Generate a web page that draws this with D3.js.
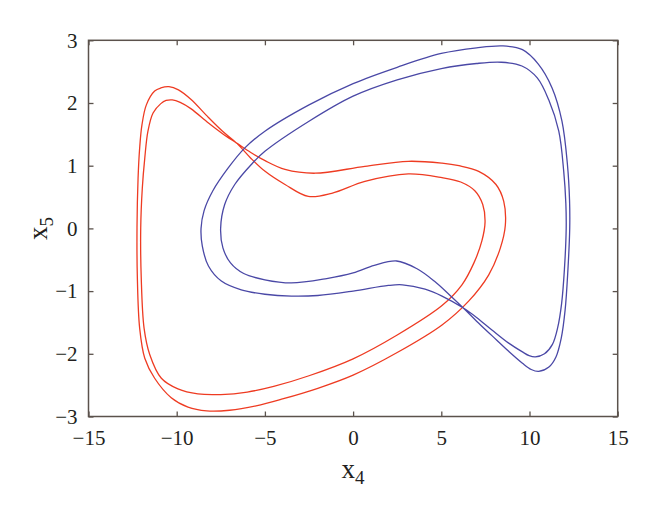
<!DOCTYPE html>
<html><head><meta charset="utf-8">
<script src="https://cdn.jsdelivr.net/npm/d3@7"></script>
<style>html,body{margin:0;padding:0;background:#fff;}</style>
</head><body><svg id="c" width="660" height="516"></svg>
<script>
const xTicks = [-15,-10,-5,0,5,10,15];
const yTicks = [-3,-2,-1,0,1,2,3];
const xLabel = "x", xSub = "4";
const yLabel = "x", ySub = "5";

// red orbit (period-2), closed
const redX4 = [-10.44,-10.9,-11.25,-11.72,-11.97,-12.10,-12.19,-12.25,-12.23,-12.10,-11.81,-11.25,-10.31,-9.36,-8.3,-7.0,-5.5,-4.0,-2.0,0.0,2.5,5.04,6.55,7.69,8.35,8.63,8.54,8.1,7.12,6.0,5.04,3.13,0.67,-2.16,-3.86,-4.99,-5.8,-6.6,-7.4,-8.2,-9.2,-9.8,-10.25,-10.6,-10.9,-11.34,-11.63,-11.81,-11.95,-12.04,-12.01,-11.85,-11.53,-10.87,-9.93,-8.8,-7.5,-6.0,-4.5,-2.5,0.0,2.5,5.04,6.17,6.85,7.3,7.48,7.35,6.9,6.1,5.04,3.13,0.67,-1.21,-2.54,-3.86,-4.99,-5.8,-6.6,-7.4,-8.2,-9.2,-9.9];
const redX5 = [2.26,2.24,2.19,1.97,1.65,1.28,0.80,0.02,-0.79,-1.59,-2.07,-2.39,-2.70,-2.85,-2.91,-2.90,-2.83,-2.72,-2.55,-2.34,-1.98,-1.54,-1.16,-0.74,-0.31,0.05,0.43,0.70,0.91,1.00,1.04,1.07,0.99,0.88,0.94,1.08,1.21,1.36,1.51,1.68,1.91,2.01,2.05,2.04,1.99,1.84,1.55,1.12,0.64,0.0,-0.79,-1.59,-2.01,-2.39,-2.56,-2.64,-2.65,-2.61,-2.52,-2.35,-2.08,-1.70,-1.23,-0.90,-0.55,-0.20,0.10,0.38,0.60,0.74,0.81,0.87,0.75,0.56,0.51,0.70,0.91,1.12,1.36,1.55,1.77,2.06,2.21];

// blue orbit (period-2), closed
const blueX4 = [10.52,11.1,11.5,11.8,12.02,12.17,12.28,12.27,12.15,11.84,11.28,10.5,9.6,8.5,7.0,5.0,2.5,0.0,-2.5,-5.0,-6.15,-7.09,-7.95,-8.45,-8.62,-8.55,-8.2,-7.47,-6.34,-5.0,-3.5,-2.0,0.0,2.0,2.8,4.08,5.04,6.25,7.0,7.87,8.82,9.6,9.98,10.33,10.85,11.3,11.6,11.82,11.98,12.08,12.06,11.94,11.66,11.09,10.44,9.57,8.4,7.0,5.0,2.5,0.0,-2.5,-5.0,-5.77,-6.71,-7.28,-7.51,-7.38,-6.95,-6.2,-5.0,-3.5,-1.5,0.0,1.2,2.47,3.6,4.6,5.5,6.25,7.0,7.87,8.82,9.6,10.1];
const blueX5 = [-2.28,-2.21,-2.05,-1.75,-1.30,-0.70,0.0,0.45,1.02,1.71,2.24,2.62,2.85,2.91,2.88,2.79,2.57,2.31,1.97,1.55,1.28,0.96,0.60,0.28,0.0,-0.28,-0.60,-0.84,-0.98,-1.05,-1.08,-1.07,-1.00,-0.91,-0.90,-0.97,-1.08,-1.27,-1.42,-1.62,-1.83,-1.97,-2.03,-2.05,-2.00,-1.85,-1.58,-1.20,-0.65,0.0,0.40,0.91,1.55,2.05,2.40,2.59,2.65,2.63,2.55,2.37,2.11,1.71,1.23,1.02,0.70,0.38,0.0,-0.31,-0.55,-0.72,-0.82,-0.87,-0.80,-0.71,-0.59,-0.52,-0.64,-0.84,-1.07,-1.27,-1.48,-1.71,-1.96,-2.15,-2.25];

const svg = d3.select("#c");
const L = 88.5, R = 617.7, T = 40.3, B = 416.5;
const x = d3.scaleLinear().domain([-15,15]).range([L,R]);
const y = d3.scaleLinear().domain([-3,3]).range([B,T]);
const axisColor = "#5b524c";
const font = "'Liberation Serif','Times New Roman',serif";

const line = d3.line().x(d=>x(d[0])).y(d=>y(d[1])).curve(d3.curveCatmullRomClosed.alpha(0.5));
const red = redX4.map((v,i)=>[v,redX5[i]]);
const blue = blueX4.map((v,i)=>[v,blueX5[i]]);

const plot = svg.append("g");
plot.append("path").attr("d", line(red)).attr("fill","none").attr("stroke","#ee3b22").attr("stroke-width",1.3);
plot.append("path").attr("d", line(blue)).attr("fill","none").attr("stroke","#4a48a6").attr("stroke-width",1.3);

function styleAxis(g){
  g.select(".domain").remove();
  g.selectAll("line").attr("stroke",axisColor).attr("stroke-width",1.3);
  g.selectAll("text").attr("fill","#231f20").style("font-family",font).style("font-size","21px");
}
const fmt = d => d < 0 ? "\u2212" + Math.abs(d) : String(d);
svg.append("g").attr("transform",`translate(0,${B})`)
  .call(d3.axisBottom(x).tickValues(xTicks).tickSize(-5).tickPadding(14).tickFormat(fmt)).call(styleAxis);
svg.append("g").attr("transform",`translate(0,${T})`)
  .call(d3.axisTop(x).tickValues(xTicks).tickSize(-5).tickFormat("")).call(styleAxis);
svg.append("g").attr("transform",`translate(${L},0)`)
  .call(d3.axisLeft(y).tickValues(yTicks).tickSize(-5).tickPadding(11).tickFormat(fmt)).call(styleAxis);
svg.append("g").attr("transform",`translate(${R},0)`)
  .call(d3.axisRight(y).tickValues(yTicks).tickSize(-5).tickFormat("")).call(styleAxis);

svg.append("rect").attr("x",L).attr("y",T).attr("width",R-L).attr("height",B-T)
  .attr("fill","none").attr("stroke",axisColor).attr("stroke-width",1.5);

// axis titles
const xt = svg.append("text").attr("x",(L+R)/2).attr("y",478).attr("text-anchor","middle")
  .style("font-family",font).style("font-size","27px").attr("fill","#231f20");
xt.append("tspan").text(xLabel);
xt.append("tspan").attr("dy",6).style("font-size","19px").text(xSub);

const yt = svg.append("text").attr("transform",`translate(47,${(T+B)/2}) rotate(-90)`).attr("text-anchor","middle")
  .style("font-family",font).style("font-size","27px").attr("fill","#231f20");
yt.append("tspan").text(yLabel);
yt.append("tspan").attr("dy",6).style("font-size","19px").text(ySub);
</script></body></html>
